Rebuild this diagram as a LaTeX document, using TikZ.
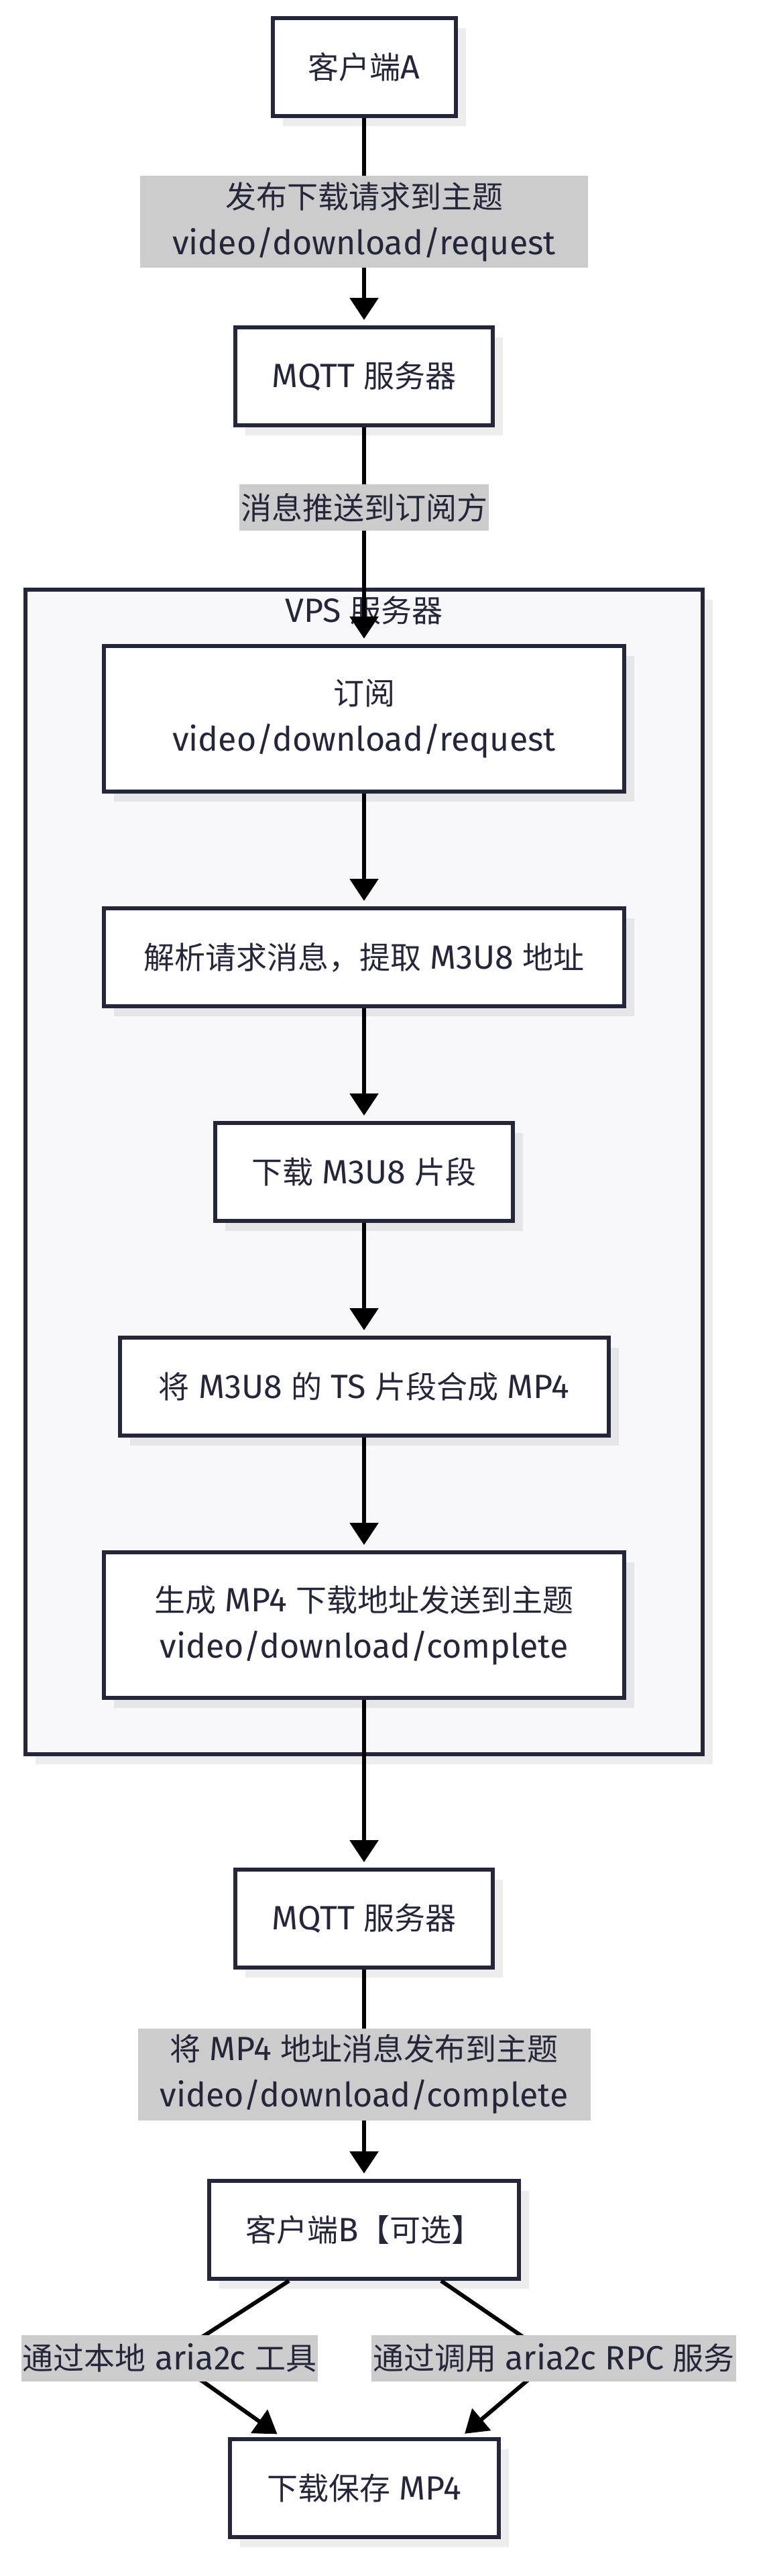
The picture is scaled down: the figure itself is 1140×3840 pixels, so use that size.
\documentclass[tikz,border=0pt]{standalone}
\usepackage{fontspec}
\setmainfont{Fira Sans}[Scale=1.09]
\newfontfamily\cjkfont{Noto Sans CJK SC}
\newcommand{\zh}[1]{{\cjkfont #1}}
\usetikzlibrary{positioning}
\usetikzlibrary{arrows.meta}
\usetikzlibrary{shadows}
\usetikzlibrary{fit}
\usetikzlibrary{backgrounds}
\tikzset{>={Triangle[width=42pt,length=33pt]}}
\definecolor{inkc}{RGB}{38,38,58}
\definecolor{lblgray}{RGB}{204,204,204}
\definecolor{vpsfill}{RGB}{248,248,250}
\tikzset{
  box/.style={draw=inkc, line width=6pt, fill=white, text=inkc, align=center,
    minimum height=146pt, inner sep=0pt,
    drop shadow={shadow xshift=15pt, shadow yshift=-15pt, fill=black, opacity=0.07}},
  lbl/.style={fill=lblgray, text=inkc, align=center, inner xsep=2pt, inner ysep=0pt,
    minimum height=69pt},
  flow/.style={->, draw=black, line width=6pt, shorten >=8pt},
}

\begin{document}
\begin{tikzpicture}[x=1pt, y=-1pt, node distance=168pt, font=\fontsize{46}{69}\selectfont]
  \useasboundingbox (0,0) rectangle (1140,3840);
  \node[box, minimum width=273pt] (CA) at (543,100) {\zh{客户端}A};
  \node[box, minimum width=384pt] (MQ1) [below=309pt of CA] {MQTT \zh{服务器}};
  \node[box, minimum width=776pt, minimum height=217pt] (SUB) [below=323pt of MQ1] {\zh{订阅}\\video/download/request};
  \node[box, minimum width=776pt] (PAR) [below=of SUB] {\zh{解析请求消息，提取} M3U8 \zh{地址}};
  \node[box, minimum width=444pt] (DL) [below=of PAR] {\zh{下载} M3U8 \zh{片段}};
  \node[box, minimum width=729pt] (MRG) [below=of DL] {\zh{将} M3U8 \zh{的} TS \zh{片段合成} MP4};
  \node[box, minimum width=776pt, minimum height=217pt] (GEN) [below=of MRG] {\zh{生成} MP4 \zh{下载地址发送到主题}\\video/download/complete};
  \node[box, minimum width=384pt] (MQ2) [below=250pt of GEN] {MQTT \zh{服务器}};
  \node[box, minimum width=462pt] (CB) [below=312pt of MQ2] {\zh{客户端}B\zh{【可选】}};
  \node[box, minimum width=401pt] (FIN) [below=233pt of CB] {\zh{下载保存} MP4};
  % VPS group
  \begin{pgfonlayer}{background}
    \node[draw=inkc, line width=6pt, fill=vpsfill, inner xsep=114pt, inner ysep=81pt,
      drop shadow={shadow xshift=15pt, shadow yshift=-15pt, fill=black, opacity=0.07},
      fit=(SUB)(GEN)] (VPS) {};
  \end{pgfonlayer}
  \node[text=inkc] (VT) at ([yshift=-34pt]VPS.north) {VPS \zh{服务器}};
  \coordinate (LLc) at (253,3515);
  \coordinate (LRc) at (826,3515);
  \path[flow]
    (CA) edge node[lbl, minimum width=668pt, minimum height=137pt] {\zh{发布下载请求到主题}\\video/download/request} (MQ1)
    (MQ1) edge node[lbl, pos=0.37] {\zh{消息推送到订阅方}} (SUB)
    (SUB) edge (PAR)
    (PAR) edge (DL)
    (DL) edge (MRG)
    (MRG) edge (GEN)
    (GEN) edge (MQ2)
    (MQ2) edge node[lbl, minimum width=675pt, minimum height=137pt] {\zh{将} MP4 \zh{地址消息发布到主题}\\video/download/complete} (CB);
  \draw[flow] ([xshift=-112pt]CB.south) -- (LLc) node[lbl] {\zh{通过本地} aria2c \zh{工具}} -- ([xshift=-123pt]FIN.north);
  \draw[flow] ([xshift=115pt]CB.south) -- (LRc) node[lbl] {\zh{通过调用} aria2c RPC \zh{服务}} -- ([xshift=144pt]FIN.north);
\end{tikzpicture}
\end{document}
